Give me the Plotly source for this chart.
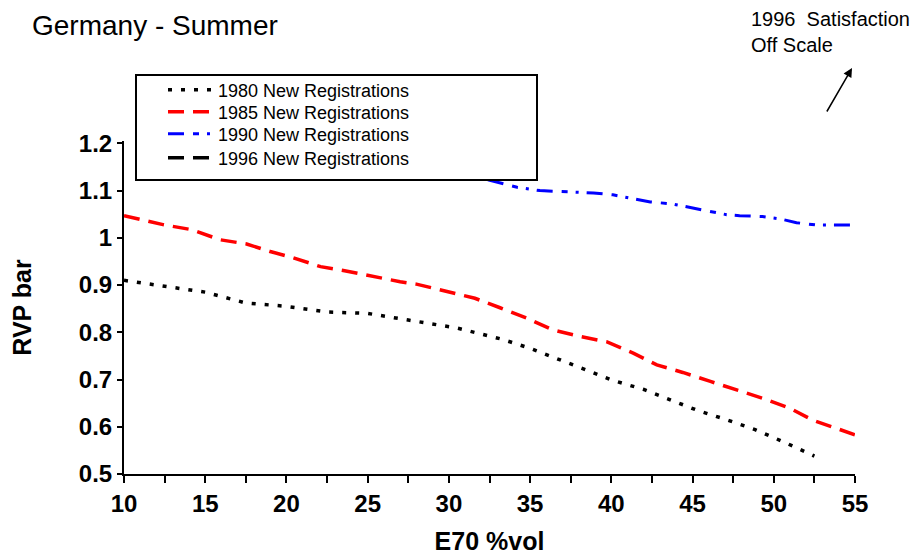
import plotly.graph_objects as go

# ---- data ----
x1980 = [10, 12.5, 15, 17.5, 20, 22.5, 25, 27.5, 30.5, 33.3, 35.0, 38.4, 40.1, 42.0, 43.6, 45.35, 47.1, 48.85, 50.6, 51.5, 52.5]
y1980 = [0.91, 0.898, 0.885, 0.862, 0.855, 0.843, 0.840, 0.826, 0.809, 0.785, 0.766, 0.721, 0.698, 0.679, 0.658, 0.634, 0.615, 0.594, 0.568, 0.553, 0.538]

x1985 = [10, 12.4, 14.2, 15.9, 17.55, 19.0, 20.4, 22.1, 23.5, 25.15, 27.0, 28.0, 29.6, 31.6, 33.15, 34.8, 36.4, 38.1, 39.7, 41.35, 42.8, 44.4, 46.1, 47.7, 49.35, 51.0, 52.4, 55]
y1985 = [1.047, 1.028, 1.017, 0.996, 0.987, 0.971, 0.958, 0.939, 0.931, 0.919, 0.907, 0.902, 0.888, 0.872, 0.852, 0.830, 0.805, 0.791, 0.780, 0.756, 0.731, 0.715, 0.696, 0.678, 0.660, 0.639, 0.614, 0.583]

x1990 = [32.4, 34.2, 35.6, 37.0, 38.9, 40.1, 41.2, 42.4, 43.7, 44.65, 45.9, 47.1, 47.9, 49.3, 50.4, 51.4, 52.65, 55]
y1990 = [1.123, 1.107, 1.100, 1.098, 1.095, 1.091, 1.084, 1.076, 1.072, 1.066, 1.058, 1.049, 1.047, 1.045, 1.040, 1.032, 1.027, 1.027]

x1996 = [None]
y1996 = [None]

names = ["1980 New Registrations", "1985 New Registrations", "1990 New Registrations", "1996 New Registrations"]

x_tickvals = [10, 12.5, 15, 17.5, 20, 22.5, 25, 27.5, 30, 32.5, 35, 37.5, 40, 42.5, 45, 47.5, 50, 52.5, 55]
x_ticktext = ["10", "", "15", "", "20", "", "25", "", "30", "", "35", "", "40", "", "45", "", "50", "", "55"]
y_tickvals = [0.5, 0.6, 0.7, 0.8, 0.9, 1.0, 1.1, 1.2]
y_ticktext = ["0.5", "0.6", "0.7", "0.8", "0.9", "1", "1.1", "1.2"]

# ---- layout geometry (pixels) ----
W, H = 911, 555
L, R, T, B = 124, 855, 141, 474
pw, ph = R - L, B - T

def px(xp):
    return (xp - L) / pw

def py(yp):
    return (B - yp) / ph

font_main = "Arial, Liberation Sans, sans-serif"

fig = go.Figure()
fig.add_trace(go.Scatter(x=x1980, y=y1980, mode="lines", name=names[0], legend="legend",
                         line=dict(color="black", width=3.5, dash="4px,9px")))
fig.add_trace(go.Scatter(x=x1985, y=y1985, mode="lines", name=names[1], legend="legend2",
                         line=dict(color="red", width=3.5, dash="16px,9px")))
fig.add_trace(go.Scatter(x=x1990, y=y1990, mode="lines", name=names[2], legend="legend3",
                         line=dict(color="blue", width=3, dash="16px,9px,6px,8px,3px,8px")))
fig.add_trace(go.Scatter(x=x1996, y=y1996, mode="lines", name=names[3], legend="legend4",
                         line=dict(color="black", width=3.5, dash="16px,9px")))

row_centers = [90, 112, 134, 158]

def leg(yc):
    return dict(
        x=px(163), y=py(yc), xanchor="left", yanchor="middle",
        bgcolor="rgba(0,0,0,0)", borderwidth=0, itemwidth=45,
        font=dict(size=18, family=font_main, color="black"),
    )

fig.update_layout(
    width=W, height=H,
    margin=dict(l=L, r=W - R, t=T, b=H - B, pad=0, autoexpand=False),
    paper_bgcolor="white", plot_bgcolor="white",
    font=dict(family=font_main, color="black"),
    showlegend=True,
    legend=leg(row_centers[0]),
    legend2=leg(row_centers[1]),
    legend3=leg(row_centers[2]),
    legend4=leg(row_centers[3]),
    xaxis=dict(
        range=[10, 55], tickmode="array", tickvals=x_tickvals, ticktext=x_ticktext,
        showgrid=False, zeroline=False, showline=True, linecolor="black", linewidth=2,
        ticks="outside", ticklen=7, tickwidth=1.5, tickcolor="black", automargin=False,
        tickfont=dict(size=24, family=font_main, color="black", weight="bold"),
        title=dict(text="<b>E70 %vol</b>", font=dict(size=25, family=font_main), standoff=18),
    ),
    yaxis=dict(
        range=[0.5, 1.205], tickmode="array", tickvals=y_tickvals, ticktext=y_ticktext,
        showgrid=False, zeroline=False, showline=True, linecolor="black", linewidth=2,
        ticks="outside", ticklen=5, tickwidth=1.5, tickcolor="black", automargin=False,
        tickfont=dict(size=24, family=font_main, color="black", weight="bold"),
        title=dict(text="<b>RVP bar</b>", font=dict(size=25, family=font_main), standoff=40),
    ),
    shapes=[
        dict(type="rect", xref="paper", yref="paper", layer="above",
             x0=px(136), x1=px(537), y0=py(180), y1=py(75),
             fillcolor="white", line=dict(color="black", width=2)),
    ],
    annotations=[
        dict(text="Germany - Summer", xref="paper", yref="paper", x=px(30), y=py(25),
             xanchor="left", yanchor="middle", showarrow=False,
             font=dict(size=28, family=font_main, color="black")),
        dict(text="1996  Satisfaction<br>Off Scale", xref="paper", yref="paper", x=px(749), y=py(6),
             xanchor="left", yanchor="top", align="left", showarrow=False,
             font=dict(size=20, family=font_main, color="black")),
        dict(text="", xref="paper", yref="paper", x=px(852), y=py(68),
             ax=-26, ay=45, showarrow=True, arrowhead=2, arrowsize=1.2, arrowwidth=1.5,
             arrowcolor="black"),
    ],
)

fig.write_html("out.html")
